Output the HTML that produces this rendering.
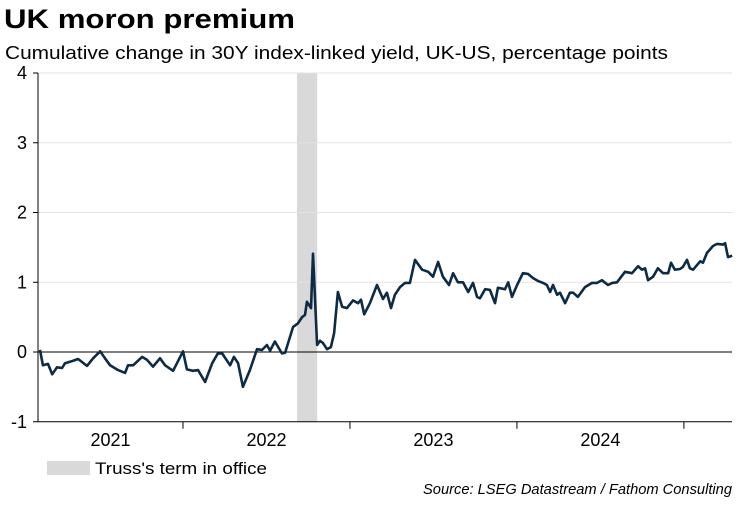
<!DOCTYPE html>
<html><head><meta charset="utf-8">
<style>
body{margin:0;background:#fff;width:750px;height:500px;overflow:hidden;font-family:"Liberation Sans",Arial,sans-serif}
</style></head>
<body>
<svg width="750" height="500" xmlns="http://www.w3.org/2000/svg" font-family="Liberation Sans, Arial, sans-serif">
<text x="4" y="28" font-size="27" font-weight="bold" fill="#000" textLength="291" lengthAdjust="spacingAndGlyphs">UK moron premium</text>
<text x="5" y="59" font-size="18" fill="#000" textLength="663" lengthAdjust="spacingAndGlyphs">Cumulative change in 30Y index-linked yield, UK-US, percentage points</text>
<g id="plot"></g>
<rect x="47" y="461" width="43" height="14" fill="#d9d9d9"/>
<text x="95" y="474" font-size="17" fill="#000" textLength="172" lengthAdjust="spacingAndGlyphs">Truss's term in office</text>
<text x="732" y="494" font-size="15" font-style="italic" text-anchor="end" fill="#000" textLength="309" lengthAdjust="spacingAndGlyphs">Source: LSEG Datastream / Fathom Consulting</text>
</svg>
<script>
// weeks since 1 Jan 2021
const weeks = [7.5,8.4,10,11.3,12.8,14.4,15.3,17.5,19.4,22.2,24.1,26.3,27.8,29.4,31.9,34.1,35,36.6,39.4,40.9,42.8,45,46.6,49.1,52.2,53.4,55.3,56.9,59.1,61.3,63.1,64.4,66.9,68.1,69.4,70.9,73.1,75.3,76.9,78.4,79.4,80.9,83.1,84.1,86.6,88.1,89.4,90.3,90.9,92.2,92.8,94.1,95,95.9,97.2,98.4,99.4,100.6,101.9,103.4,105.3,106.9,107.8,108.8,110.6,112.8,114.7,115.9,117.2,118.4,120,121.6,123.1,124.7,126.9,128.8,130.3,131.9,133.4,135.3,136.6,138.1,139.7,141.3,142.8,144.1,145,146.6,148.1,149.7,150.6,152.8,153.8,155,156.6,158.4,160,161.6,163.1,164.7,165.9,166.9,167.8,169.1,170,171.6,173.1,174.1,175.6,177.8,180,181.6,183.1,185,186.3,187.8,190.3,192.5,194.4,195.6,196.6,197.5,199.1,200.6,202.2,203.8,204.7,205.9,207.5,208.4,209.7,210.6,211.6,213.8,214.7,215.9,217.8,219.1,220.9,221.6,222.5,223.8];
const values = [0.03,-0.19,-0.17,-0.32,-0.22,-0.23,-0.16,-0.13,-0.10,-0.20,-0.09,0.01,-0.09,-0.19,-0.26,-0.30,-0.19,-0.19,-0.07,-0.11,-0.21,-0.09,-0.19,-0.27,0.01,-0.25,-0.27,-0.26,-0.43,-0.16,-0.02,-0.02,-0.19,-0.07,-0.16,-0.50,-0.26,0.04,0.03,0.10,0.02,0.15,-0.02,-0.01,0.36,0.41,0.50,0.53,0.72,0.63,1.41,0.10,0.16,0.13,0.04,0.07,0.27,0.86,0.65,0.63,0.74,0.70,0.75,0.54,0.70,0.96,0.76,0.85,0.63,0.82,0.93,0.99,0.99,1.32,1.18,1.15,1.08,1.29,1.08,0.96,1.13,1.00,1.00,0.86,0.99,0.79,0.77,0.90,0.89,0.70,0.92,0.90,1.00,0.79,0.96,1.13,1.12,1.06,1.02,0.99,0.96,0.86,0.96,0.82,0.85,0.70,0.85,0.85,0.79,0.93,0.99,0.99,1.03,0.96,0.99,1.00,1.15,1.13,1.23,1.18,1.20,1.03,1.08,1.20,1.13,1.13,1.28,1.18,1.19,1.22,1.32,1.20,1.18,1.30,1.28,1.42,1.52,1.55,1.54,1.56,1.36,1.38];
const yTicks = [-1,0,1,2,3,4];
const years = ["2021","2022","2023","2024"];
const trussStart = 87.8, trussEnd = 94.1;

const NS = "http://www.w3.org/2000/svg";
const g = document.getElementById("plot");
const x = w => 16 + w * 3.2;
const y = v => 352 - v * 69.75;
function mk(tag, attrs, parent){const e=document.createElementNS(NS,tag);for(const k in attrs)e.setAttribute(k,attrs[k]);(parent||g).appendChild(e);return e;}

const band = mk("rect",{x:x(trussStart),y:y(4),width:x(trussEnd)-x(trussStart),height:y(-1)-y(4),fill:"#d9d9d9"});



yTicks.forEach(t=>{
  if(t!==0 && t!==-1){
    const gl = mk("line",{x1:38,x2:732,y1:y(t),y2:y(t),stroke:"#e3e3e3","stroke-width":1});
    
    
  }
  const tk = mk("line",{x1:33,x2:38,y1:y(t),y2:y(t),stroke:"#000"});
  
  
  const lb = mk("text",{x:27,y:y(t)+6,"text-anchor":"end","font-size":18,fill:"#000"});
  lb.textContent = t;
  
  
});
const zl = mk("line",{x1:38,x2:732,y1:y(0),y2:y(0),stroke:"#000","stroke-width":1});


const ya = mk("line",{x1:38,x2:38,y1:y(4),y2:y(-1),stroke:"#000"});


const xa = mk("line",{x1:38,x2:732,y1:y(-1),y2:y(-1),stroke:"#000"});



years.forEach((yr,i)=>{
  const s = x(i*52.18), e = x((i+1)*52.18);
  const tk = mk("line",{x1:e,x2:e,y1:y(-1),y2:y(-1)+7,stroke:"#000"});
  
  
  const lb = mk("text",{x:(Math.max(s,38)+e)/2,y:446,"text-anchor":"middle","font-size":18,fill:"#000"});
  lb.textContent = yr;
  
  
});

const pts = weeks.map((w,i)=>x(w).toFixed(1)+","+y(values[i]).toFixed(1)).join(" ");
const line = mk("polyline",{points:pts,fill:"none",stroke:"#0d2b45","stroke-width":2.6,"stroke-linejoin":"round"});


</script>
</body></html>
